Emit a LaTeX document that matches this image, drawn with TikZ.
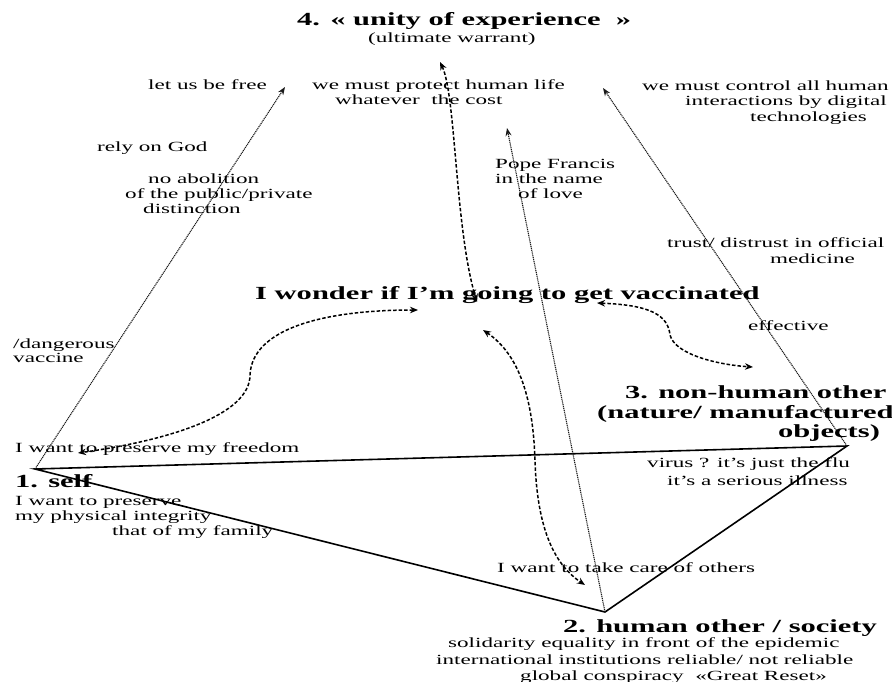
\documentclass[tikz,border=0pt]{standalone}
\usepackage{fontspec}
\setmainfont{Liberation Serif}[FakeStretch=1.65]
\usetikzlibrary{arrows.meta}

\tikzset{
  txt/.style={anchor=base west, inner sep=0pt, font=\fontsize{14}{16}\selectfont},
  head/.style={anchor=base west, inner sep=0pt, font=\fontsize{18.5}{22}\selectfont\bfseries},
  side/.style={line width=1.6pt, line join=miter},
  dotray/.style={line width=1.1pt, black!90, dash pattern=on 1.1pt off 0.8pt,
    -{Stealth[length=8pt,width=6pt]}},
  swing/.style={line width=1.5pt, dash pattern=on 3.5pt off 2pt,
    {Stealth[length=8pt,width=6.5pt]}-{Stealth[length=8pt,width=6.5pt]}},
}

\begin{document}
\begin{tikzpicture}[x=1pt,y=-1pt]
\useasboundingbox[fill=white] (0,0) rectangle (892,682);

% corners of the triangle
\coordinate (S) at (35,469);
\coordinate (H) at (605,612);
\coordinate (N) at (847,446);
% tips of the rays towards the top pole
\coordinate (fS) at (285,87);
\coordinate (fH) at (507,128);
\coordinate (fN) at (603,88);
% ends of the dashed two-way curves
\coordinate (a1) at (440,62);  \coordinate (a2) at (477,302);
\coordinate (b1) at (418,310); \coordinate (b2) at (78,453);
\coordinate (c1) at (597,303); \coordinate (c2) at (753,367);
\coordinate (d1) at (483,330); \coordinate (d2) at (585,585);

% triangle
\draw[side] (S) -- (N) -- (H) -- cycle;

% dotted rays
\draw[dotray] (S) -- (fS);
\draw[dotray] (H) -- (fH);
\draw[dotray] (N) -- (fN);

% dashed two-way curves
\draw[swing] (a1) .. controls (456,95) and (455,230) .. (a2);
\draw[swing] (b1) .. controls (320,310) and (252,330) .. (250,375)
                  .. controls (250,415) and (170,440) .. (b2);
\draw[swing] (c1) .. controls (650,305) and (668,315) .. (670,335)
                  .. controls (675,355) and (720,365) .. (c2);
\draw[swing] (d1) .. controls (520,355) and (533,400) .. (535,460)
                  .. controls (537,530) and (555,565) .. (d2);

% top pole
\node[head] (unity) at (297,26) {4. « unity of experience\ \ »};
\node[txt] (warrant) at (368,43) {(ultimate warrant)};
\node[txt] (free) at (148,90) {let us be free};
\node[txt] (protA) at (312,90) {we must protect human life};
\node[txt] (protB) at (335,105) {whatever\ \ the cost};
\node[txt] (ctrlA) at (642,91) {we must control all human};
\node[txt] (ctrlB) at (685,106) {interactions by digital};
\node[txt] (ctrlC) at (750,122) {technologies};
\node[txt] (god) at (97,152) {rely on God};
\node[txt] (abolA) at (148,184) {no abolition};
\node[txt] (abolB) at (125,198) {of the public/private};
\node[txt] (abolC) at (143,213) {distinction};
\node[txt] (popeA) at (495,168) {Pope Francis};
\node[txt] (popeB) at (495,183) {in the name};
\node[txt] (popeC) at (518,198) {of love};
\node[txt] (trustA) at (667,247) {trust/ distrust in official};
\node[txt] (trustB) at (770,263) {medicine};

% centre
\node[head] (wonder) at (255,299) {I wonder if I'm going to get vaccinated};
\node[txt] (effective) at (748,330) {effective};
\node[txt] (dangA) at (13,348) {/dangerous};
\node[txt] (dangB) at (13,362) {vaccine};

% non-human other
\node[head] (nonhA) at (625,398) {3. non-human other};
\node[head] (nonhB) at (597,418) {(nature/ manufactured};
\node[head] (nonhC) at (778,437) {objects)};
\node[txt] (virusA) at (647,467) {virus ? it's just the flu};
\node[txt] (virusB) at (667,485) {it's a serious illness};

% self
\node[txt] (freedom) at (15,452) {I want to preserve my freedom};
\node[head] (self) at (15,487) {1. self};
\node[txt] (selfA) at (15,505) {I want to preserve};
\node[txt] (selfB) at (15,520) {my physical integrity};
\node[txt] (selfC) at (112,535) {that of my family};

% human other
\node[txt] (care) at (497,572) {I want to take care of others};
\node[head] (human) at (563,632) {2. human other / society};
\node[txt] (humA) at (448,647) {solidarity equality in front of the epidemic};
\node[txt] (humB) at (436,664) {international institutions reliable/ not reliable};
\node[txt] (humC) at (520,680) {global conspiracy\ \ «Great Reset»};
\end{tikzpicture}
\end{document}
